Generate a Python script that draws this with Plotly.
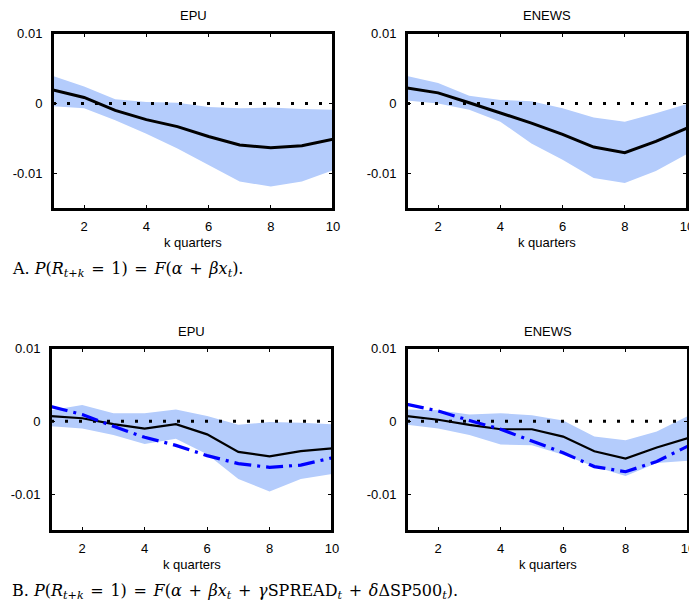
import plotly.graph_objects as go

W, H = 689, 607

quarters = [1, 2, 3, 4, 5, 6, 7, 8, 9, 10]
zero_line = [0, 0, 0, 0, 0, 0, 0, 0, 0, 0]
panel_titles = ["EPU", "ENEWS", "EPU", "ENEWS"]
x_ticks = [2, 4, 6, 8, 10]
y_ticks = [-0.01, 0, 0.01]
y_tick_labels = ["-0.01", "0", "0.01"]

# Panel A, EPU
a_epu_mean = [0.0019, 0.00085, -0.0010, -0.0023, -0.0033, -0.0047, -0.0059, -0.0063, -0.0060, -0.0051]
a_epu_upper = [0.0039, 0.0024, 0.0006, 0.0002, 0.0001, -0.0005, -0.0007, -0.0006, -0.0008, -0.0009]
a_epu_lower = [-0.0004, -0.0007, -0.0024, -0.0043, -0.0064, -0.0088, -0.0111, -0.0118, -0.0111, -0.0095]

# Panel A, ENEWS
a_enews_mean = [0.0022, 0.0015, 0.0001, -0.0013, -0.0028, -0.0044, -0.0062, -0.0070, -0.0054, -0.0035]
a_enews_upper = [0.0039, 0.0029, 0.0011, 0.0005, 0.0003, -0.0007, -0.0020, -0.0026, -0.0014, -0.0001]
a_enews_lower = [0.0004, 0.0000, -0.0009, -0.0026, -0.0057, -0.0080, -0.0106, -0.0113, -0.0096, -0.0072]

# Panel B, EPU
b_epu_mean = [0.0007, 0.0004, -0.0004, -0.0010, -0.0004, -0.0018, -0.0042, -0.0048, -0.0041, -0.0037]
b_epu_base = [0.0020, 0.0009, -0.0007, -0.0022, -0.0033, -0.0047, -0.0058, -0.0063, -0.0060, -0.0050]
b_epu_upper = [0.0015, 0.0022, 0.0011, 0.0011, 0.0016, 0.0007, -0.0005, -0.0001, -0.0002, -0.0004]
b_epu_lower = [-0.0007, -0.0010, -0.0019, -0.0031, -0.0024, -0.0045, -0.0079, -0.0096, -0.0079, -0.0072]

# Panel B, ENEWS
b_enews_mean = [0.0007, 0.0002, -0.0005, -0.0011, -0.0011, -0.0021, -0.0041, -0.0051, -0.0036, -0.0023]
b_enews_base = [0.0023, 0.0014, 0.0001, -0.0011, -0.0027, -0.0043, -0.0062, -0.0069, -0.0055, -0.0034]
b_enews_upper = [0.0016, 0.0015, 0.0009, 0.0011, 0.0008, 0.0001, -0.0021, -0.0026, -0.0014, 0.0007]
b_enews_lower = [-0.0005, -0.0010, -0.0019, -0.0032, -0.0033, -0.0046, -0.0062, -0.0075, -0.0057, -0.0054]

BAND = "#b4ccfc"
BLUE = "#0000ff"
FONT = "Liberation Sans"
SERIF = "DejaVu Serif"

# pixel boxes of plot areas: (left, right, top, bottom)
boxes = [
    (53, 333, 33, 209),
    (407, 687, 33, 209),
    (51, 332, 348, 531),
    (407, 688, 348, 531),
]

panels = [
    (a_epu_mean, a_epu_upper, a_epu_lower, None, 3),
    (a_enews_mean, a_enews_upper, a_enews_lower, None, 3),
    (b_epu_mean, b_epu_upper, b_epu_lower, b_epu_base, 2.2),
    (b_enews_mean, b_enews_upper, b_enews_lower, b_enews_base, 2.2),
]

fig = go.Figure()
annotations = []
layout_axes = {}
shapes = []

for i, ((mean, up, lo, base, lw), (l, r, t, b)) in enumerate(zip(panels, boxes)):
    n = i + 1
    suf = "" if n == 1 else str(n)
    xa, ya = "x" + suf, "y" + suf
    fig.add_trace(go.Scatter(x=quarters, y=lo, mode="lines", line=dict(width=0, color=BAND),
                             xaxis=xa, yaxis=ya, showlegend=False, hoverinfo="skip"))
    fig.add_trace(go.Scatter(x=quarters, y=up, mode="lines", line=dict(width=0, color=BAND),
                             fill="tonexty", fillcolor=BAND,
                             xaxis=xa, yaxis=ya, showlegend=False, hoverinfo="skip"))
    fig.add_trace(go.Scatter(x=quarters, y=zero_line, mode="lines",
                             line=dict(width=3, color="black", dash="3px,11px"),
                             xaxis=xa, yaxis=ya, showlegend=False))
    fig.add_trace(go.Scatter(x=quarters, y=mean, mode="lines",
                             line=dict(width=lw, color="black"),
                             xaxis=xa, yaxis=ya, showlegend=False))
    if base is not None:
        fig.add_trace(go.Scatter(x=quarters, y=base, mode="lines",
                                 line=dict(width=3.2, color=BLUE, dash="17px,6px,3px,6px"),
                                 xaxis=xa, yaxis=ya, showlegend=False))

    common = dict(showline=True, linecolor="black", linewidth=2, mirror="allticks",
                  ticks="inside", ticklen=4, tickwidth=1, tickcolor="black",
                  showgrid=False, zeroline=False, automargin=False,
                  ticklabeloverflow="allow",
                  tickfont=dict(family=FONT, size=13, color="black"))
    layout_axes["xaxis" + suf] = dict(domain=[l / W, r / W], range=[1, 10], tickvals=x_ticks,
                                      anchor=ya, ticklabelstandoff=4, **common)
    layout_axes["yaxis" + suf] = dict(domain=[1 - b / H, 1 - t / H], range=[-0.015, 0.01],
                                      tickvals=y_ticks, ticktext=y_tick_labels,
                                      anchor=xa, ticklabelstandoff=6, **common)
    # plot frame
    shapes.append(dict(type="rect", xref=xa + " domain", yref=ya + " domain",
                       x0=0, x1=1, y0=0, y1=1, line=dict(color="black", width=2), layer="above"))

    cx = (l + r) / 2 / W
    annotations.append(dict(text=panel_titles[i], x=cx, y=1 - (t - 17) / H, xref="paper", yref="paper",
                            showarrow=False, xanchor="center", yanchor="middle",
                            font=dict(family=FONT, size=13, color="black")))
    annotations.append(dict(text="k quarters", x=cx, y=1 - (b + 33) / H, xref="paper", yref="paper",
                            showarrow=False, xanchor="center", yanchor="middle",
                            font=dict(family=FONT, size=13, color="black")))

sp = "&nbsp;&#8202;"
cap_a = ("A. <i>P</i>(<i>R</i><sub><i>t</i>+<i>k</i></sub>" + sp + "=" + sp + "1)" + sp + "=" + sp +
         "<i>F</i>(<i>α</i>" + sp + "+" + sp + "<i>βx</i><sub><i>t</i></sub>).")
cap_b = ("B. <i>P</i>(<i>R</i><sub><i>t</i>+<i>k</i></sub>" + sp + "=" + sp + "1)" + sp + "=" + sp +
         "<i>F</i>(<i>α</i>" + sp + "+" + sp + "<i>βx</i><sub><i>t</i></sub>" + sp + "+" + sp +
         "<i>γ</i>SPREAD<sub><i>t</i></sub>" + sp + "+" + sp + "<i>δ</i>ΔSP500<sub><i>t</i></sub>).")
annotations.append(dict(text=cap_a, x=10 / W, y=1 - 270 / H, xref="paper", yref="paper",
                        showarrow=False, xanchor="left", yanchor="middle",
                        font=dict(family=SERIF, size=16, color="black")))
annotations.append(dict(text=cap_b, x=10 / W, y=1 - 591 / H, xref="paper", yref="paper",
                        showarrow=False, xanchor="left", yanchor="middle",
                        font=dict(family=SERIF, size=16, color="black")))

fig.update_layout(width=W, height=H, margin=dict(l=0, r=0, t=0, b=0, pad=0, autoexpand=False),
                  paper_bgcolor="white", plot_bgcolor="white",
                  annotations=annotations, shapes=shapes, showlegend=False, **layout_axes)

post = ("document.body.style.margin='0';document.body.style.padding='0';"
        "document.documentElement.style.overflow='hidden';")
fig.write_html("out.html", post_script=post, config={"displayModeBar": False})
